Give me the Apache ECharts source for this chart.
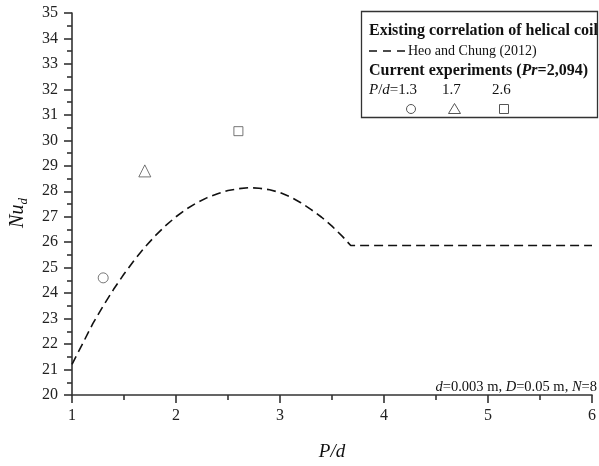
<!DOCTYPE html>
<html>
<head>
<meta charset="utf-8">
<script src="https://cdn.jsdelivr.net/npm/echarts@6/dist/echarts.min.js"></script>
<style>html,body{margin:0;padding:0;background:#fff}#c{width:599px;height:466px}</style>
</head>
<body>
<div id="c"></div>
<script>
// Heo and Chung (2012) correlation
const corrX = [1.0,1.1,1.2,1.3,1.4,1.5,1.6,1.7,1.8,1.9,2.0,2.1,2.2,2.3,2.4,2.5,2.6,2.7,2.8,2.9,3.0,3.1,3.2,3.3,3.4,3.5,3.6,3.68,6.0];
const corrY = [21.2,22.0,22.8,23.5,24.15,24.75,25.3,25.8,26.25,26.65,27.0,27.3,27.55,27.75,27.9,28.03,28.1,28.14,28.12,28.06,27.95,27.78,27.55,27.28,26.98,26.63,26.23,25.87,25.87];
// Current experiments
const expPd = [1.3, 1.7, 2.6];
const expNu = [24.6, 28.8, 30.36];
const expSymbols = ['circle', 'triangle', 'rect'];

const FONT = '"Liberation Serif", "Times New Roman", serif';
const chart = echarts.init(document.getElementById('c'));

const series = [{
  type: 'line',
  data: corrX.map((x, i) => [x, corrY[i]]),
  showSymbol: false,
  smooth: false,
  lineStyle: { color: '#111', width: 1.6, type: [9, 5] },
  z: 3
}];
expPd.forEach((x, i) => {
  series.push({
    type: 'scatter',
    data: [[x, expNu[i]]],
    symbol: expSymbols[i],
    symbolSize: expSymbols[i] === 'rect' ? 9 : (expSymbols[i] === 'triangle' ? 12 : 10),
    itemStyle: { color: '#fff', borderColor: '#555', borderWidth: 1 },
    z: 4
  });
});

const axisCommon = {
  axisLine: { show: true, lineStyle: { color: '#333', width: 1.6 } },
  axisTick: { show: true, length: 8, lineStyle: { color: '#333', width: 1.6 } },
  minorTick: { show: true, splitNumber: 2, length: 5, lineStyle: { color: '#333', width: 1.6 } },
  splitLine: { show: false },
  minorSplitLine: { show: false }
};

chart.setOption({
  animation: false,
  grid: { left: 69, right: 3, top: 13, bottom: 65 },
  xAxis: Object.assign({
    type: 'value', min: 1, max: 6, interval: 1,
    name: 'P/d', nameLocation: 'middle', nameGap: 47,
    nameTextStyle: { fontFamily: FONT, fontStyle: 'italic', fontSize: 19, color: '#111' },
    axisLabel: { fontFamily: FONT, fontSize: 16, color: '#222', margin: 13 }
  }, axisCommon),
  yAxis: Object.assign({
    type: 'value', min: 20, max: 35, interval: 1,
    name: '{i|Nu}{s|d}', nameLocation: 'middle', nameGap: 42, nameRotate: 90,
    nameTextStyle: {
      fontFamily: FONT, color: '#111', padding: [0, 18, 0, 0],
      rich: {
        i: { fontFamily: FONT, fontStyle: 'italic', fontSize: 20, color: '#111', lineHeight: 24, verticalAlign: 'middle' },
        s: { fontFamily: FONT, fontStyle: 'italic', fontSize: 13, color: '#111', lineHeight: 24, verticalAlign: 'bottom', padding: [8, 0, 0, 0] }
      }
    },
    axisLabel: { fontFamily: FONT, fontSize: 16, color: '#222', margin: 14 }
  }, axisCommon),
  series: series,
  graphic: [
    { type: 'rect', z: 10, shape: { x: 361.5, y: 11.5, width: 236, height: 106 },
      style: { fill: '#fff', stroke: '#333', lineWidth: 1.3 } },
    { type: 'text', z: 11, x: 369, y: 31,
      style: { text: 'Existing correlation of helical coil', font: 'bold 16px ' + FONT, fill: '#111', verticalAlign: 'middle' } },
    { type: 'line', z: 11, shape: { x1: 369, y1: 51, x2: 405, y2: 51 },
      style: { stroke: '#111', lineWidth: 1.6, lineDash: [8, 6] } },
    { type: 'text', z: 11, x: 408, y: 51,
      style: { text: 'Heo and Chung (2012)', font: '14px ' + FONT, fill: '#111', verticalAlign: 'middle' } },
    { type: 'text', z: 11, x: 369, y: 71,
      style: { text: 'Current experiments ({bi|Pr}=2,094)', font: 'bold 16px ' + FONT, fill: '#111', verticalAlign: 'middle',
        rich: { bi: { font: 'italic bold 16px ' + FONT, fill: '#111' } } } },
    { type: 'text', z: 11, x: 369, y: 90,
      style: { text: '{i|P}/{i|d}=1.3', font: '15px ' + FONT, fill: '#111', verticalAlign: 'middle',
        rich: { i: { font: 'italic 15px ' + FONT, fill: '#111' } } } },
    { type: 'text', z: 11, x: 442, y: 90,
      style: { text: '1.7', font: '15px ' + FONT, fill: '#111', verticalAlign: 'middle' } },
    { type: 'text', z: 11, x: 492, y: 90,
      style: { text: '2.6', font: '15px ' + FONT, fill: '#111', verticalAlign: 'middle' } },
    { type: 'circle', z: 11, shape: { cx: 411, cy: 109, r: 4.5 },
      style: { fill: '#fff', stroke: '#555', lineWidth: 1 } },
    { type: 'polygon', z: 11, shape: { points: [[454.5, 103.5], [460.5, 113.5], [448.5, 113.5]] },
      style: { fill: '#fff', stroke: '#555', lineWidth: 1 } },
    { type: 'rect', z: 11, shape: { x: 499.5, y: 104.5, width: 9, height: 9 },
      style: { fill: '#fff', stroke: '#555', lineWidth: 1 } },
    { type: 'text', z: 11, x: 597, y: 387,
      style: { text: '{i|d}=0.003 m, {i|D}=0.05 m, {i|N}=8', font: '14.5px ' + FONT, fill: '#111',
        align: 'right', verticalAlign: 'middle',
        rich: { i: { font: 'italic 14.5px ' + FONT, fill: '#111' } } } }
  ]
});
</script>
</body>
</html>
